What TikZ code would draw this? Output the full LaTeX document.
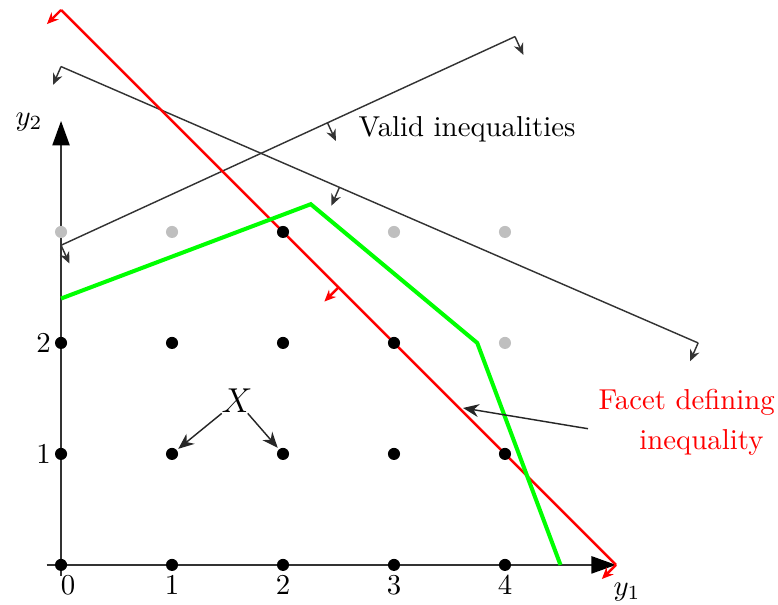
\documentclass[tikz,border=0pt]{standalone}
\usetikzlibrary{arrows.meta,calc}
\begin{document}
\begin{tikzpicture}[x=1.355cm,y=1.355cm,
  axisline/.style={black!80,line width=0.5pt},
  validline/.style={black!80,line width=0.5pt},
  smallarr/.style={-{Stealth[length=4pt,width=3.5pt]}},
  facetline/.style={red,line width=0.85pt},
  hullline/.style={green,line width=1.4pt},
  dotblack/.style={circle,fill=black,inner sep=0pt,minimum size=4.2pt},
  dotgray/.style={circle,fill=black!25,inner sep=0pt,minimum size=4.2pt},
  pointer/.style={black!85,line width=0.5pt,-{Stealth[length=5.5pt,width=4.5pt]}}
]
\useasboundingbox (-0.55,-0.36) rectangle (6.46,5.09);

% axes
\coordinate (xs) at (-0.13,0);
\coordinate (xe) at (5,0);
\coordinate (ys) at (0,-0.1);
\coordinate (ye) at (0,4);
\draw[axisline,-{Triangle[length=8.5pt,width=6pt,color=black,fill=black]}] (xs) -- (xe);
\draw[axisline,-{Triangle[length=8.5pt,width=6pt,color=black,fill=black]}] (ys) -- (ye);
\node (ylab) at (-0.288,3.99) {$y_2$};
\node (xlab) at (5.1,-0.245) {$y_1$};
\node[below] (t0) at (0.063,0) {0};
\foreach \i in {1,2,3,4} \node[below] (t\i) at (\i,0) {\i};
\node[left] (l1) at (0,1) {1};
\node[left] (l2) at (0,2) {2};

% valid inequality 1
\coordinate (va) at (0,2.88);
\coordinate (vb) at (4.09,4.76);
\coordinate (vm) at ($(va)!0.587!(vb)$);
\draw[validline] (va) -- (vb);
\draw[validline,smallarr] (va) -- ++(0.075,-0.164);
\draw[validline,smallarr] (vm) -- ++(0.075,-0.164);
\draw[validline,smallarr] (vb) -- ++(0.075,-0.164);

% valid inequality 2
\coordinate (wa) at (0,4.49);
\coordinate (wb) at (5.74,2.0);
\coordinate (wm) at ($(wa)!0.437!(wb)$);
\draw[validline] (wa) -- (wb);
\draw[validline,smallarr] (wa) -- ++(-0.072,-0.165);
\draw[validline,smallarr] (wm) -- ++(-0.072,-0.165);
\draw[validline,smallarr] (wb) -- ++(-0.072,-0.165);

\node[anchor=base west] (valid) at (2.589,3.856) {Valid inequalities};

% facet defining inequality
\coordinate (fa) at (0,5);
\coordinate (fb) at (5,0);
\coordinate (fm) at (2.5,2.5);
\draw[facetline] (fa) -- (fb);
\draw[facetline,smallarr] (fa) -- ++(-0.127,-0.127);
\draw[facetline,smallarr] (fm) -- ++(-0.127,-0.127);
\draw[facetline,smallarr] (fb) -- ++(-0.127,-0.127);

% convex hull (green)
\coordinate (g1) at (0,2.4);
\coordinate (g2) at (2.25,3.25);
\coordinate (g3) at (3.75,2.0);
\coordinate (g4) at (4.5,0);
\draw[hullline,line join=miter] (g1) -- (g2) -- (g3) -- (g4);

% integer points
\foreach \x in {0,...,4} {
  \node[dotblack] (d\x0) at (\x,0) {};
  \node[dotblack] (d\x1) at (\x,1) {};
}
\foreach \x in {0,...,3} \node[dotblack] (d\x2) at (\x,2) {};
\node[dotgray] (d42) at (4,2) {};
\node[dotgray] (d03) at (0,3) {};
\node[dotgray] (d13) at (1,3) {};
\node[dotblack] (d23) at (2,3) {};
\node[dotgray] (d33) at (3,3) {};
\node[dotgray] (d43) at (4,3) {};

% X label
\node[inner sep=0pt,font=\large] (X) at (1.585,1.477) {$X$};
\draw[pointer,shorten >=0.5pt] (X) -- (d11);
\draw[pointer,shorten >=0.5pt] (X) -- (d21);

% facet label
\node[red,anchor=base west] (facet1) at (4.751,1.396) {Facet defining};
\node[red,anchor=base west] (facet2) at (5.120,1.036) {inequality};
\coordinate (fs) at (4.748,1.227);
\coordinate (ft) at (3.622,1.414);
\draw[pointer] (fs) -- (ft);
\end{tikzpicture}
\end{document}
